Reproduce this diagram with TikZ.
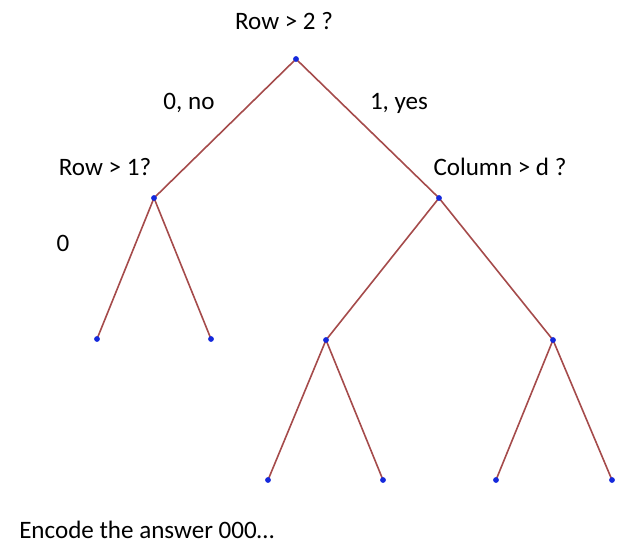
\documentclass[tikz,border=0pt]{standalone}
\usepackage{fontspec}
\setmainfont{Carlito}
\usetikzlibrary{positioning}
\definecolor{edgecol}{RGB}{165,75,75}
\definecolor{dotcol}{RGB}{20,40,220}

\tikzset{
  dot/.style={circle,inner sep=0pt,minimum size=4.5pt},
  branch/.style={edgecol,line width=1.2pt},
  lbl/.style={font=\fontsize{18.8}{22}\selectfont,inner sep=0pt}
}

\begin{document}
\begin{tikzpicture}[x=0.75pt,y=-0.75pt]
\useasboundingbox (0,0) rectangle (618,544);
% tree nodes
\node[dot] (root) at (296,59) {};
\node[dot] (lft) at (154,198) {};
\node[dot] (rgt) at (439,198) {};
\node[dot] (ll) at (97,339) {};
\node[dot] (lr) at (211,339) {};
\node[dot] (rl) at (326,340) {};
\node[dot] (rr) at (553,340) {};
\node[dot] (rll) at (268,480) {};
\node[dot] (rlr) at (383,480) {};
\node[dot] (rrl) at (496,480) {};
\node[dot] (rrr) at (612,480) {};
% branches, then the dots on top
\foreach \a/\b in {root/lft,root/rgt,lft/ll,lft/lr,rgt/rl,rgt/rr,rl/rll,rl/rlr,rr/rrl,rr/rrr}
  \draw[branch] (\a.center) -- (\b.center);
\foreach \n in {root,lft,rgt,ll,lr,rl,rr,rll,rlr,rrl,rrr}
  \fill[dotcol] (\n) circle (2.9);
% questions and labels
\node[lbl] (q1) at (284,21) {Row > 2 ?};
\node[lbl] (no) at (189,103) {0, no};
\node[lbl] (yes) at (399,103) {1, yes};
\node[lbl] (q2) at (105,167) {Row > 1?};
\node[lbl] (q3) at (500,167) {Column > d ?};
\node[lbl] (zero) at (63,243) {0};
\node[lbl,anchor=west] (enc) at (19,530) {Encode the answer 000\ldots};
\end{tikzpicture}
\end{document}
